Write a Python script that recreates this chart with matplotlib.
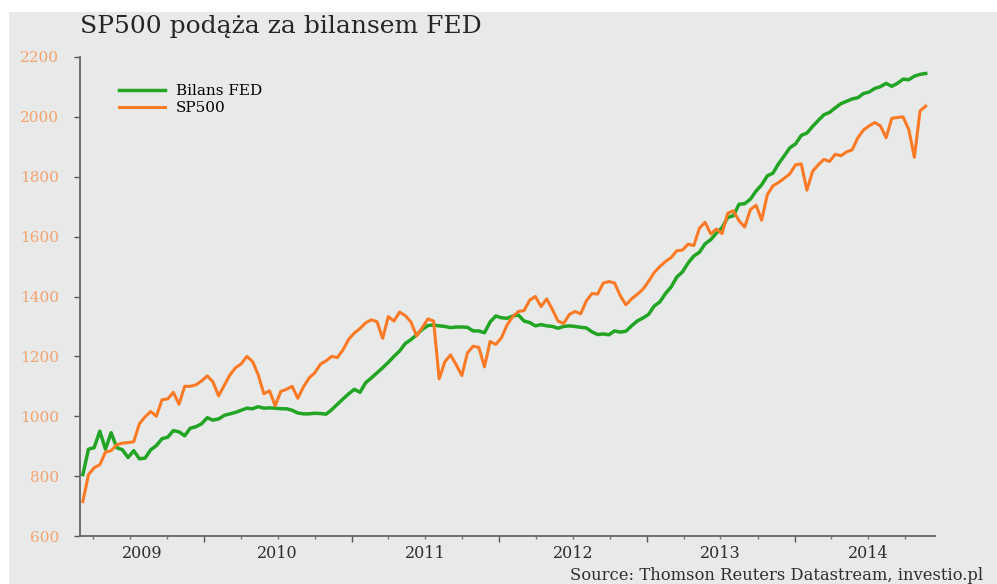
import matplotlib
matplotlib.use("Agg")
import matplotlib.pyplot as plt
import matplotlib.dates as mdates
import matplotlib.transforms as mtransforms
from matplotlib.patches import Rectangle
import pandas as pd

# odczyty co dwa tygodnie, od 6 marca 2009
start_date = "2009-03-06"

sp500 = [715, 805, 828, 838, 880, 885, 905, 910, 912, 915,
         975, 998, 1016, 1000, 1055, 1058, 1080, 1040, 1100, 1100,
         1105, 1118, 1135, 1115, 1068, 1103, 1138, 1162, 1175, 1200,
         1183, 1139, 1075, 1085, 1035, 1083, 1090, 1100, 1060, 1098,
         1128, 1145, 1174, 1185, 1200, 1196, 1222, 1257, 1278, 1293,
         1312, 1322, 1316, 1260, 1333, 1318, 1348, 1336, 1315, 1268,
         1296, 1325, 1318, 1125, 1182, 1205, 1172, 1136, 1212, 1234,
         1230, 1165, 1250, 1240, 1262, 1305, 1333, 1350, 1353, 1388,
         1400, 1366, 1392, 1357, 1318, 1310, 1340, 1350, 1342, 1385,
         1410, 1408, 1445, 1450, 1445, 1403, 1372, 1392, 1407, 1424,
         1450, 1480, 1500, 1517, 1530, 1553, 1555, 1575, 1570, 1628,
         1648, 1609, 1625, 1610, 1678, 1686, 1653, 1632, 1690, 1705,
         1655, 1740, 1770, 1781, 1795, 1810, 1840, 1843, 1755, 1818,
         1840, 1858, 1851, 1875, 1870, 1883, 1890, 1930, 1956, 1970,
         1981, 1970, 1930, 1995, 1998, 2000, 1958, 1865, 2020, 2036]

fed_balance = [805, 890, 895, 950, 890, 945, 895, 888, 862, 885,
               858, 860, 888, 902, 925, 930, 952, 948, 935, 960,
               965, 975, 995, 987, 991, 1003, 1008, 1013, 1020, 1027,
               1025, 1032, 1027, 1028, 1027, 1025, 1025, 1020, 1011, 1008,
               1008, 1010, 1009, 1007, 1022, 1040, 1058, 1075, 1090, 1080,
               1112, 1128, 1145, 1162, 1180, 1200, 1218, 1243, 1256, 1272,
               1290, 1303, 1305, 1302, 1300, 1296, 1298, 1298, 1297, 1285,
               1285, 1279, 1315, 1335, 1329, 1327, 1335, 1338, 1318, 1313,
               1302, 1306, 1302, 1300, 1294, 1300, 1302, 1300, 1297, 1295,
               1282, 1273, 1275, 1272, 1285, 1281, 1284, 1302, 1318, 1328,
               1340, 1368, 1382, 1410, 1432, 1465, 1482, 1512, 1535, 1548,
               1576, 1590, 1612, 1630, 1664, 1670, 1708, 1710, 1725, 1752,
               1773, 1803, 1812, 1844, 1870, 1897, 1910, 1938, 1946, 1968,
               1988, 2007, 2015, 2030, 2044, 2052, 2060, 2064, 2078, 2083,
               2095, 2101, 2112, 2102, 2112, 2126, 2124, 2136, 2142, 2145]

years = [2009, 2010, 2011, 2012, 2013, 2014]
y_ticks = [600, 800, 1000, 1200, 1400, 1600, 1800, 2000, 2200]

dates = pd.date_range(start_date, periods=len(sp500), freq="14D")

bg = "#e8e9e9"
green = "#22a524"
orange = "#fb7a26"
label_orange = "#f4a36e"

plt.rcParams['font.family'] = ['DejaVu Serif']

fig = plt.figure(figsize=(9.97, 5.84), dpi=100, facecolor="white")
fig.patches.append(Rectangle((9 / 997, 0), 1, 1 - 12 / 584, transform=fig.transFigure,
                             facecolor=bg, edgecolor="none", zorder=-10))

ax = fig.add_axes([80 / 997, 48 / 584, 855 / 997, 479 / 584])
ax.set_facecolor(bg)

ax.plot(dates, fed_balance, color=green, lw=2.5, label="Bilans FED", solid_joinstyle="round")
ax.plot(dates, sp500, color=orange, lw=2.2, label="SP500", solid_joinstyle="round")

ax.set_ylim(600, 2200)
ax.set_xlim(pd.Timestamp("2009-02-27"), pd.Timestamp("2014-12-14"))

for side in ["top", "right"]:
    ax.spines[side].set_visible(False)
for side in ["left", "bottom"]:
    ax.spines[side].set_color("#666666")
    ax.spines[side].set_linewidth(1.3)

ax.set_yticks(y_ticks)
ax.tick_params(axis="y", direction="out", length=4, width=1, color="#555555",
               labelcolor=label_orange, labelsize=11, pad=11)

ax.xaxis.set_major_locator(mdates.YearLocator())
ax.xaxis.set_minor_locator(mdates.MonthLocator(bymonth=[1, 4, 7, 10]))
ax.xaxis.set_major_formatter(plt.NullFormatter())
ax.tick_params(axis="x", which="major", direction="out", length=4.5, width=1, color="#555555")
ax.tick_params(axis="x", which="minor", direction="out", length=2.5, width=1, color="#777777")

# etykiety lat w środku roku
trans = mtransforms.blended_transform_factory(ax.transData, fig.transFigure)
x_left = ax.get_xlim()[0]
for y in years:
    if y == years[0]:
        xpos = (x_left + mdates.date2num(pd.Timestamp(f"{y + 1}-01-01"))) / 2
    else:
        xpos = mdates.date2num(pd.Timestamp(f"{y}-07-01"))
    ax.text(xpos, 1 - 553 / 584, str(y), transform=trans, ha="center", va="center",
            fontsize=11.5, color="#2e2e2e")

fig.text(80 / 997, 1 - 27 / 584, "SP500 podąża za bilansem FED", fontsize=18,
         color="#262626", va="center", ha="left")
fig.text(570 / 997, 1 - 575 / 584, "Source: Thomson Reuters Datastream, investio.pl",
         fontsize=11.8, color="#2e2e2e", va="center", ha="left")

ax.legend(loc="upper left", bbox_to_anchor=(0.03, 0.972), frameon=False, fontsize=11,
          handlelength=3.0, labelspacing=0.2, handletextpad=0.7)

fig.savefig("out.png", dpi=100, facecolor="white")
